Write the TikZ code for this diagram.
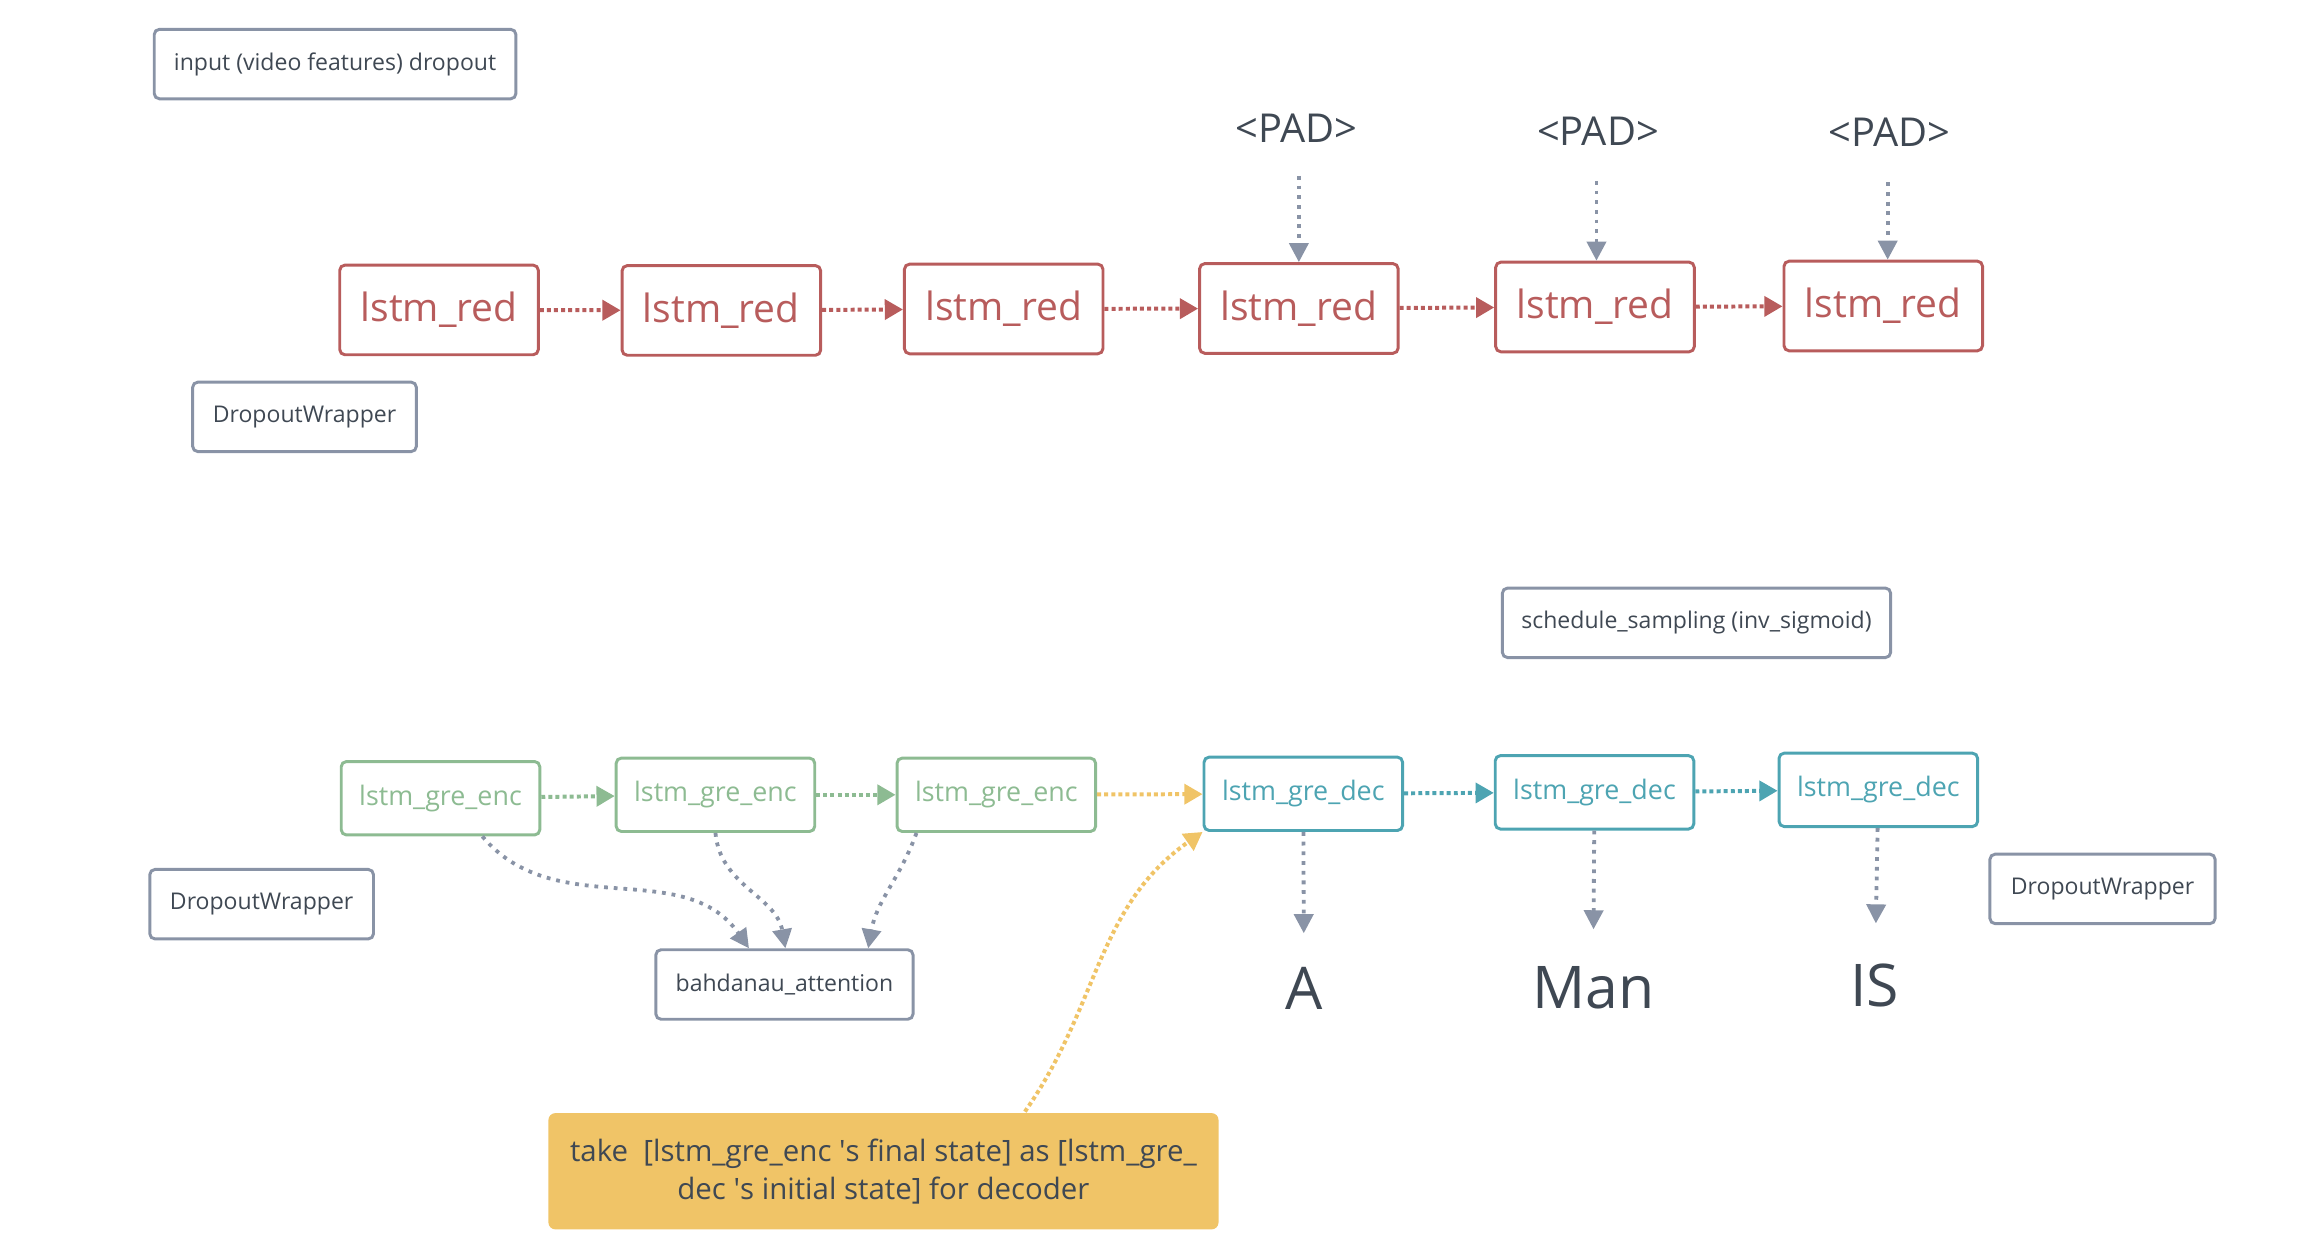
\documentclass[tikz,border=0pt]{standalone}
\usepackage{fontspec}
\setmainfont{Open Sans}
\usepackage{tikz}
\usetikzlibrary{shapes,positioning,arrows.meta}
\usetikzlibrary{calc}

\definecolor{redbox}{HTML}{B85C5C}
\definecolor{grebox}{HTML}{8DBB92}
\definecolor{decbox}{HTML}{4DA4B2}
\definecolor{grybox}{HTML}{8993A6}
\definecolor{txtgry}{HTML}{3F4853}
\definecolor{ylwbox}{HTML}{F0C467}

\begin{document}
\begin{tikzpicture}[
  box/.style={draw,rounded corners=3pt,line width=1.7pt,align=center,inner sep=0pt},
  redcell/.style={box,draw=redbox,text=redbox,minimum width=4.03cm,minimum height=1.82cm,
     font=\fontsize{22.5}{26}\selectfont},
  enccell/.style={box,draw=grebox,text=grebox,minimum width=4.03cm,minimum height=1.49cm,
     font=\fontsize{15.5}{18}\selectfont},
  deccell/.style={enccell,draw=decbox,text=decbox},
  note/.style={box,draw=grybox,text=txtgry,minimum height=1.41cm,font=\fontsize{13.3}{16}\selectfont},
  word/.style={text=txtgry,inner sep=0pt},
  chain/.style={->,line width=2.3pt,dash pattern=on 2.3pt off 1.8pt,
     >={Triangle[length=10.5pt,width=11.5pt]}},
  feed/.style={->,draw=grybox,line width=2.2pt,dash pattern=on 2.2pt off 3.4pt,
     >={Triangle[length=11pt,width=11pt]}}
]

\useasboundingbox (0,0) rectangle (46.8,-25.57);

\node[note,minimum width=7.34cm] (inp) at (6.80,-1.30) {input (video features) dropout};

% reduce layer
\node[redcell] (r1) at ( 8.91,-6.29) {lstm\_red};
\node[redcell] (r2) at (14.64,-6.30) {lstm\_red};
\node[redcell] (r3) at (20.37,-6.27) {lstm\_red};
\node[redcell] (r4) at (26.36,-6.26) {lstm\_red};
\node[redcell] (r5) at (32.37,-6.23) {lstm\_red};
\node[redcell] (r6) at (38.22,-6.21) {lstm\_red};

\foreach \a/\b in {1/2,2/3,3/4,4/5,5/6}
  {\draw[chain,redbox] (r\a) -- (r\b);}

\coordinate (t4) at (26.36,-3.57);
\coordinate (t5) at (32.40,-3.67);
\coordinate (t6) at (38.31,-3.70);

\node[word,font=\fontsize{23}{26}\selectfont] (pad4) at (26.31,-2.60) {<PAD>};
\node[word,font=\fontsize{23}{26}\selectfont] (pad5) at (32.43,-2.66) {<PAD>};
\node[word,font=\fontsize{23}{26}\selectfont] (pad6) at (38.34,-2.69) {<PAD>};

\foreach \x in {4,...,6}
  {\draw[feed] (t\x) -- (t\x |- r\x.north);}

\node[note,minimum width=4.54cm] (w1) at ( 6.18,-8.46) {DropoutWrapper};
\node[note,minimum width=7.88cm] (ss) at (34.43,-12.64) {schedule\_sampling (inv\_sigmoid)};

% encoder / decoder
\node[enccell] (e1) at ( 8.94,-16.20) {lstm\_gre\_enc};
\node[enccell] (e2) at (14.52,-16.13) {lstm\_gre\_enc};
\node[enccell] (e3) at (20.22,-16.13) {lstm\_gre\_enc};
\node[deccell] (d1) at (26.45,-16.11) {lstm\_gre\_dec};
\node[deccell] (d2) at (32.36,-16.08) {lstm\_gre\_dec};
\node[deccell] (d3) at (38.12,-16.03) {lstm\_gre\_dec};

\draw[chain,grebox] (e1) -- (e2);
\draw[chain,grebox] (e2) -- (e3);
\draw[chain,ylwbox] (e3) -- (d1);
\draw[chain,decbox] (d1) -- (d2);
\draw[chain,decbox] (d2) -- (d3);

\node[note,minimum width=4.54cm] (w2) at ( 5.31,-18.35) {DropoutWrapper};
\node[note,minimum width=4.57cm] (w3) at (42.67,-18.04) {DropoutWrapper};
\node[note,minimum width=5.22cm] (att) at (15.92,-19.98) {bahdanau\_attention};

\draw[feed] ([xshift=0.85cm]e1.south) to[out=-50,in=125] ([xshift=-0.72cm]att.north);
\draw[feed] (e2.south) to[out=-85,in=100] ([xshift=0.02cm]att.north);
\draw[feed] ([xshift=-1.62cm]e3.south) to[out=-110,in=80] ([xshift=1.70cm]att.north);

\coordinate (o1) at (26.46,-18.94);
\coordinate (o2) at (32.34,-18.86);
\coordinate (o3) at (38.07,-18.74);

\foreach \x in {1,...,3}
  {\draw[feed] (d\x) -- (o\x);}

\node[word,font=\fontsize{34}{40}\selectfont] (wA) at (26.46,-20.05) {A};
\node[word,font=\fontsize{34}{40}\selectfont] (wM) at (32.34,-20.05) {Man};
\node[word,font=\fontsize{34}{40}\selectfont] (wI) at (38.04,-19.99) {IS};

\node[box,draw=none,fill=ylwbox,rounded corners=4pt,text=txtgry,minimum width=13.6cm,
   minimum height=2.36cm,font=\fontsize{17}{22}\selectfont] (msg) at (17.93,-23.77)
   {take\ \ [lstm\_gre\_enc \textquotesingle s final state] as [lstm\_gre\_\\
    dec \textquotesingle s initial state] for decoder};

\draw[chain,ylwbox] ([xshift=2.87cm]msg.north) to[out=55,in=-145] (d1.south west);

\end{tikzpicture}
\end{document}
